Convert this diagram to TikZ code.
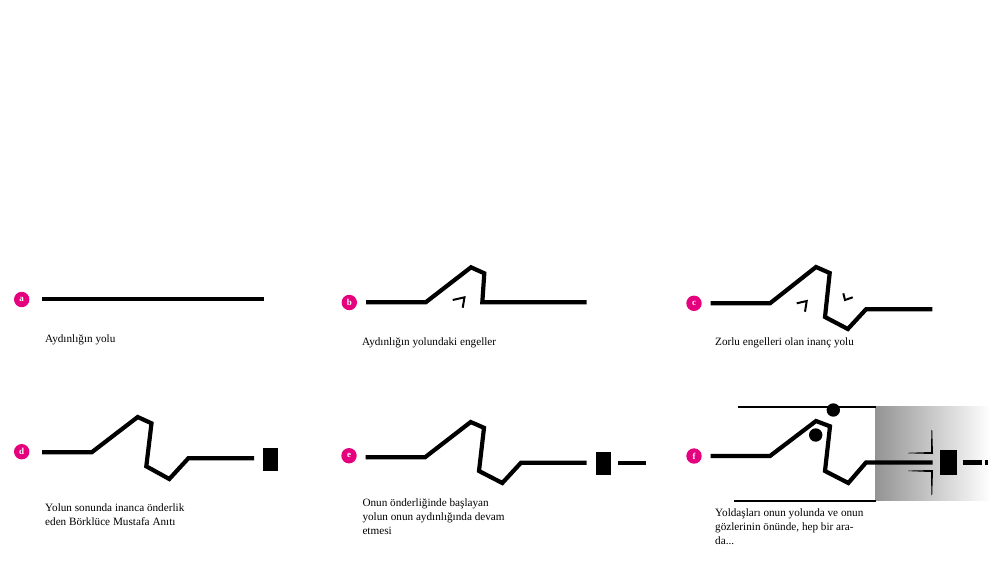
\documentclass[tikz,border=0pt]{standalone}
\usepackage{fontspec}
\setmainfont{Liberation Serif}
\usepackage{tikz}
\usetikzlibrary{positioning}
\definecolor{badgepink}{HTML}{E5007E}

\begin{document}
\begin{tikzpicture}[x=1pt,y=1pt]
                \tikzstyle{every node}+=[inner sep=0pt]
                \tikzstyle{road}=[black, line width=4.2pt]
                \tikzstyle{edgeline}=[black, line width=2.4pt]
                \tikzstyle{hook}=[black, line width=2pt]
                \tikzstyle{badge}=[circle, fill=badgepink, minimum size=15.4pt, text=white, font=\fontsize{9}{9}\selectfont\bfseries]
                \tikzstyle{caption}=[anchor=base west, align=left, font=\fontsize{11.2}{14}\selectfont]
                \tikzstyle{monument}=[fill=black, minimum width=15pt, minimum height=23.3pt]
                \useasboundingbox (0,0) rectangle (1000,-563);
                % a
                \node [badge] (badgeA) at (21.7,-299.5) {a};
                \draw [road] (42,-299.3) -- (264,-299.3);
                \node [caption] (capA) at (45,-342) {Aydınlığın yolu};
                % b
                \node [badge] (badgeB) at (349.3,-302.5) {b};
                \draw [road] (366,-302.3) -- (425.7,-302.3) -- (471,-267.3) -- (484.3,-273.3) -- (482.3,-302.3) -- (586.7,-302.3);
                \draw [hook] (452.7,-300) -- (464.5,-297.3) -- (462.7,-307.7);
                \node [caption] (capB) at (362,-345) {Aydınlığın yolundaki engeller};
                % c
                \node [badge] (badgeC) at (694,-303.3) {c};
                \draw [road] (710.7,-303.3) -- (770,-303.3) -- (816,-267) -- (829.7,-273) -- (825,-317) -- (847.8,-329) -- (866,-309.3) -- (932.3,-309.3);
                \draw [hook] (796.7,-303.3) -- (806.7,-301) -- (805,-311.7);
                \draw [hook] (843.3,-293.3) -- (845,-300) -- (852.7,-297.3);
                \node [caption] (capC) at (715,-345) {Zorlu engelleri olan inanç yolu};
                % d
                \node [badge] (badgeD) at (21.7,-451.7) {d};
                \draw [road] (42,-452.3) -- (91.7,-452.3) -- (137.7,-417) -- (151.5,-423.3) -- (146.3,-466.3) -- (169.3,-479) -- (188.3,-458.3) -- (254,-458.3);
                \node [monument] (anitD) at (270.2,-459.4) {};
                \node [caption] (capD) at (45,-525.5) {Yolun sonunda inanca önderlik\\eden Börklüce Mustafa Anıtı};
                % e
                \node [badge] (badgeE) at (349,-455.7) {e};
                \draw [road] (365.7,-457.3) -- (425,-457.3) -- (470.7,-422) -- (484,-427.8) -- (479,-471) -- (502.3,-483) -- (521,-462.7) -- (586.7,-462.7);
                \node [monument] (anitE) at (603.2,-463.3) {};
                \draw [road] (618.3,-462.7) -- (645.7,-462.7);
                \node [caption] (capE) at (362.3,-534) {Onun önderliğinde başlayan\\yolun onun aydınlığında devam\\etmesi};
                % f
                \shade [left color=black!42, right color=white] (875.7,-406.7) rectangle (990,-500.7);
                \node [badge] (badgeF) at (694,-456) {f};
                \draw [edgeline] (738.3,-406.7) -- (875.7,-406.7);
                \draw [edgeline] (734.3,-500.7) -- (875.7,-500.7);
                \draw [road] (710.7,-456) -- (770,-456) -- (816,-421) -- (830,-426.3) -- (825,-471) -- (848.3,-483) -- (866,-462.5) -- (932.7,-462.5);
                \fill [black] (833.3,-410) circle (6.7);
                \fill [black] (815.7,-435) circle (6.7);
                \fill [black] (931.4,-430) -- (932.2,-430) -- (933,-454) -- (908,-453.3) -- (908,-452.8) -- (931,-452) -- cycle;
                \fill [black] (908,-470.6) -- (933,-470) -- (932.2,-495) -- (931.4,-495) -- (931,-472) -- (908,-471.1) -- cycle;
                \node [monument, minimum width=16.7pt, minimum height=25pt] (anitF) at (948.3,-462.5) {};
                \draw [road] (962.7,-462.5) -- (981.7,-462.5);
                \draw [road] (984.5,-462.5) -- (988.3,-462.5);
                \node [caption] (capF) at (715,-544.5) {Yoldaşları onun yolunda ve onun\\gözlerinin önünde, hep bir ara-\\da...};
            \end{tikzpicture}
\end{document}
